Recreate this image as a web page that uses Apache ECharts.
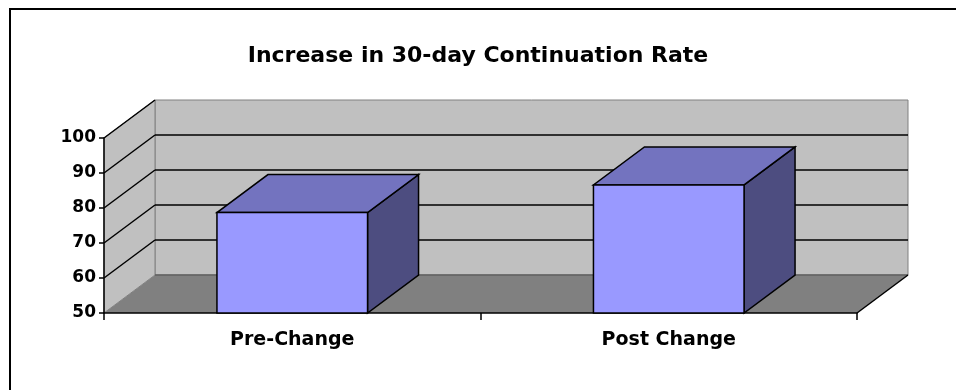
<!DOCTYPE html>
<html>
<head>
<meta charset="utf-8">
<script src="https://cdn.jsdelivr.net/npm/echarts@6/dist/echarts.min.js"></script>
<style>
  html, body { margin: 0; padding: 0; background: #fff; }
  #chart { width: 956px; height: 390px; }
</style>
</head>
<body>
<div id="chart"></div>
<script>
// Chart data
const titleText = 'Increase in 30-day Continuation Rate';
const categories = ['Pre-Change', 'Post Change'];
const rates = [78.7, 86.6];
const yTicks = [50, 60, 70, 80, 90, 100];

// Look of the 3-D box
const DEPTH_X = 51;
const DEPTH_Y = -38;
const FONT = 'DejaVu Sans';
const WALL = '#c0c0c0';
const FLOOR = '#808080';
const EDGE = '#808080';
const FRONT = '#9999ff';
const TOP = '#7373bf';
const SIDE = '#4d4d80';

const yMin = yTicks[0];
const yMax = yTicks[yTicks.length - 1];
const yStep = yTicks[1] - yTicks[0];

const chart = echarts.init(document.getElementById('chart'));

// Back wall, side wall, floor and gridlines, all placed from the value axis
function renderWalls(params, api) {
  const cs = params.coordSys;
  const x0 = cs.x, x1 = cs.x + cs.width;
  const yb = api.coord([0, yMin])[1];
  const yt = api.coord([0, yMax])[1];
  const children = [];
  // floor
  children.push({
    type: 'polygon',
    shape: { points: [[x0, yb], [x1, yb], [x1 + DEPTH_X, yb + DEPTH_Y], [x0 + DEPTH_X, yb + DEPTH_Y]] },
    style: { fill: FLOOR, stroke: null }
  });
  // back wall
  children.push({
    type: 'rect',
    shape: { x: x0 + DEPTH_X, y: yt + DEPTH_Y, width: x1 - x0, height: yb - yt },
    style: { fill: WALL, stroke: EDGE, lineWidth: 1 }
  });
  // left wall
  children.push({
    type: 'polygon',
    shape: { points: [[x0, yb], [x0, yt], [x0 + DEPTH_X, yt + DEPTH_Y], [x0 + DEPTH_X, yb + DEPTH_Y]] },
    style: { fill: WALL, stroke: EDGE, lineWidth: 1 }
  });
  // floor back edge
  children.push({
    type: 'line',
    shape: { x1: x0 + DEPTH_X, y1: yb + DEPTH_Y, x2: x1 + DEPTH_X, y2: yb + DEPTH_Y },
    style: { stroke: '#606060', lineWidth: 1.5 }
  });
  // gridlines: diagonal on the side wall, horizontal on the back wall
  yTicks.forEach(function (v) {
    if (v === yMin) return;
    const y = api.coord([0, v])[1];
    children.push({
      type: 'line',
      shape: { x1: x0, y1: y, x2: x0 + DEPTH_X, y2: y + DEPTH_Y },
      style: { stroke: '#000', lineWidth: 1.5 }
    });
    if (v !== yMax) {
      children.push({
        type: 'line',
        shape: { x1: x0 + DEPTH_X, y1: y + DEPTH_Y, x2: x1 + DEPTH_X, y2: y + DEPTH_Y },
        style: { stroke: '#000', lineWidth: 1.5 }
      });
    }
  });
  // floor right edge
  children.push({
    type: 'line',
    shape: { x1: x1, y1: yb, x2: x1 + DEPTH_X, y2: yb + DEPTH_Y },
    style: { stroke: '#000', lineWidth: 1.5 }
  });
  return { type: 'group', children: children };
}

// Each column as a box: front face, top face and right side face
function renderColumn(params, api) {
  const idx = api.value(0);
  const val = api.value(1);
  const top = api.coord([idx, val]);
  const base = api.coord([idx, yMin]);
  const w = api.size([1, 0])[0] * 0.4;
  const xl = top[0] - w / 2, xr = top[0] + w / 2;
  const yt = top[1], yb = base[1];
  const line = { stroke: '#000', lineWidth: 1.5, lineJoin: 'miter' };
  return {
    type: 'group',
    children: [
      {
        type: 'polygon',
        shape: { points: [[xr, yt], [xr + DEPTH_X, yt + DEPTH_Y], [xr + DEPTH_X, yb + DEPTH_Y], [xr, yb]] },
        style: Object.assign({ fill: SIDE }, line)
      },
      {
        type: 'polygon',
        shape: { points: [[xl, yt], [xr, yt], [xr + DEPTH_X, yt + DEPTH_Y], [xl + DEPTH_X, yt + DEPTH_Y]] },
        style: Object.assign({ fill: TOP }, line)
      },
      {
        type: 'rect',
        shape: { x: xl, y: yt, width: w, height: yb - yt },
        style: Object.assign({ fill: FRONT }, line)
      }
    ]
  };
}

chart.setOption({
  animation: false,
  backgroundColor: '#fff',
  title: {
    text: titleText,
    left: 'center',
    top: 40,
    textStyle: { fontFamily: FONT, fontWeight: 'bold', fontSize: 22, color: '#000' }
  },
  graphic: [{
    type: 'rect',
    shape: { x: 10, y: 9, width: 1000, height: 500 },
    style: { fill: null, stroke: '#000', lineWidth: 2 },
    z: 10
  }],
  grid: { left: 104, right: 99, top: 138, bottom: 77 },
  xAxis: {
    type: 'category',
    data: categories,
    z: 3,
    axisLine: { lineStyle: { color: '#000', width: 1.5 } },
    axisTick: { show: true, length: 7, lineStyle: { color: '#000', width: 1.5 } },
    axisLabel: { margin: 18, fontFamily: FONT, fontWeight: 'bold', fontSize: 19, color: '#000' },
    splitLine: { show: false }
  },
  yAxis: {
    type: 'value',
    min: yMin,
    max: yMax,
    interval: yStep,
    z: 3,
    axisLine: { show: true, lineStyle: { color: '#000', width: 1.5 } },
    axisTick: { show: true, length: 5, lineStyle: { color: '#000', width: 1.5 } },
    axisLabel: {
      margin: 8, fontFamily: FONT, fontWeight: 'bold', fontSize: 17, color: '#000',
      formatter: function (v) { return yTicks.indexOf(v) >= 0 ? String(v) : ''; }
    },
    splitLine: { show: false }
  },
  series: [
    {
      type: 'custom',
      name: 'walls',
      z: 1,
      silent: true,
      renderItem: renderWalls,
      data: [[0, yMin]]
    },
    {
      type: 'custom',
      name: '30-day Continuation Rate',
      z: 4,
      renderItem: renderColumn,
      encode: { x: 0, y: 1 },
      data: rates.map(function (v, i) { return [i, v]; })
    }
  ]
});
</script>
</body>
</html>
